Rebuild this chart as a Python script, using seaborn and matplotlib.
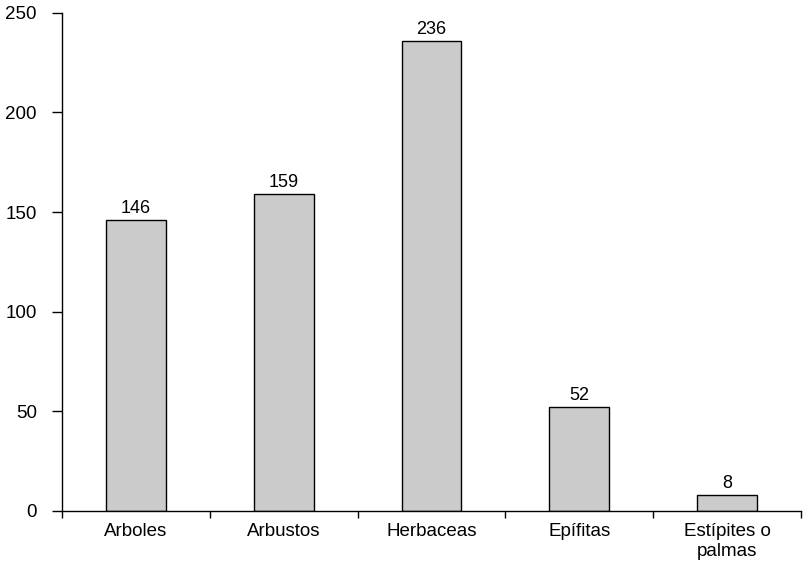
import matplotlib
matplotlib.use("Agg")
import matplotlib.pyplot as plt
import seaborn as sns
import pandas as pd
import numpy as np

categories = ["Arboles", "Arbustos", "Herbaceas", "Epífitas", "Estípites o\npalmas"]
counts = [146, 159, 236, 52, 8]
y_ticks = [0, 50, 100, 150, 200, 250]

sns.set_style("ticks")
plt.rcParams["font.family"] = ["Liberation Sans", "DejaVu Sans"]

df = pd.DataFrame({"forma": categories, "n": counts})

fig = plt.figure(figsize=(8.05, 5.63), dpi=100)
ax = fig.add_axes([0.077, 0.0924, 0.918, 0.885])

sns.barplot(data=df, x="forma", y="n", color="#cbcbcb", saturation=1,
            edgecolor="black", linewidth=1.0, width=0.405, ax=ax)

for patch, v in zip(ax.patches, counts):
    ax.text(patch.get_x() + patch.get_width() / 2, v + 1.5, f"{v}",
            ha="center", va="bottom", fontsize=13, color="black")

ax.set_xlim(-0.5, len(categories) - 0.5)
ax.set_ylim(0, 250)
ax.set_yticks(y_ticks)
ax.set_xlabel("")
ax.set_ylabel("")

# category labels sit between boundary tick marks
ax.tick_params(axis="x", which="major", length=0, pad=9, labelsize=13.5,
               labelcolor="black")
ax.set_xticks(np.arange(-0.5, len(categories)), minor=True)
ax.tick_params(axis="x", which="minor", length=5, width=1, direction="out", color="black")
ax.tick_params(axis="y", length=7, width=1, direction="out", labelsize=13.5, pad=11,
               color="black", labelcolor="black")

for lab in ax.get_xticklabels():
    lab.set_multialignment("center")

sns.despine(ax=ax, top=True, right=True)
ax.spines["left"].set_linewidth(1)
ax.spines["bottom"].set_linewidth(1)
ax.spines["left"].set_color("black")
ax.spines["bottom"].set_color("black")

fig.savefig("out.png", dpi=100)
